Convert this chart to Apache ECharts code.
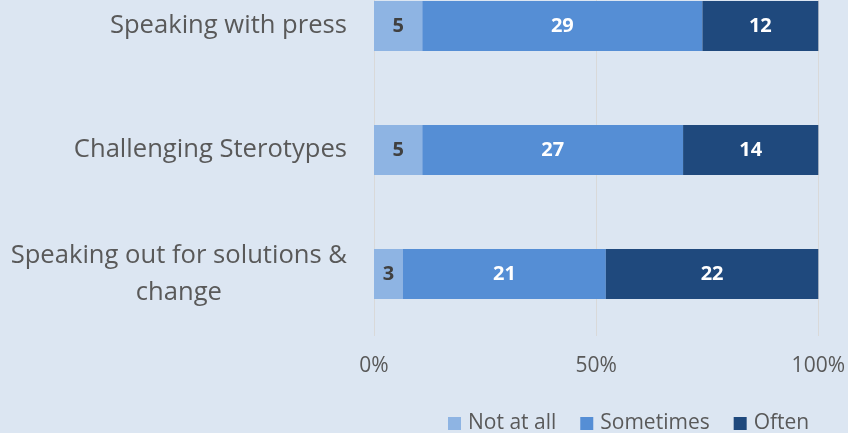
<!DOCTYPE html>
<html><head><meta charset="utf-8">
<script src="https://cdn.jsdelivr.net/npm/echarts@6/dist/echarts.min.js"></script>
<style>html,body{margin:0;padding:0;background:#dce6f2;overflow:hidden;width:848px;height:433px;}#c{position:absolute;left:0;top:-36px;width:848px;height:469px;}</style>
</head><body><div id="c"></div>
<script>
const categories = ['Speaking with press', 'Challenging Sterotypes', 'Speaking out for solutions &\nchange'];
const notAtAll = [5, 5, 3];
const sometimes = [29, 27, 21];
const often = [12, 14, 22];
const seriesNames = ['Not at all', 'Sometimes', 'Often'];
const colors = ['#8eb4e3', '#558ed5', '#1f497d'];
const tickLabels = ['0%', '50%', '100%'];

const raw = [notAtAll, sometimes, often];
const totals = categories.map((_, i) => raw.reduce((s, a) => s + a[i], 0));
const FONT = 'Open Sans';

const chart = echarts.init(document.getElementById('c'));
chart.setOption({
  backgroundColor: '#dce6f2',
  animation: false,
  textStyle: { fontFamily: FONT },
  grid: { left: 374, right: 28, top: 0, bottom: 97, containLabel: false },
  legend: {
    bottom: -1, left: 448, itemWidth: 13, itemHeight: 13, itemGap: 24, padding: 0,
    icon: 'rect',
    textStyle: { fontSize: 21, color: '#595959', fontFamily: FONT, padding: [0, 0, 0, 2] },
    data: seriesNames
  },
  xAxis: {
    type: 'value', min: 0, max: 100, interval: 50,
    axisLine: { show: false }, axisTick: { show: false },
    splitLine: { show: true, lineStyle: { color: '#d9d9d9', width: 1 } },
    axisLabel: {
      fontSize: 21, color: '#595959', margin: 20, fontFamily: FONT,
      formatter: v => tickLabels[Math.round(v / 50)]
    }
  },
  yAxis: {
    type: 'category', inverse: true, data: categories,
    axisLine: { show: false }, axisTick: { show: false },
    axisLabel: {
      fontSize: 25.6, color: '#595959', margin: 27, align: 'right', fontFamily: FONT,
      lineHeight: 37,
      formatter: v => v.split('\n').map(l => '{c|' + l + '}').join('\n'),
      rich: { c: { align: 'center', fontSize: 25.6, lineHeight: 37, color: '#595959', fontFamily: FONT } }
    }
  },
  series: raw.map((arr, si) => ({
    name: seriesNames[si], type: 'bar', stack: 'total', barWidth: 50,
    itemStyle: { color: colors[si] },
    label: {
      show: true, position: 'inside', fontSize: 20, fontWeight: 'bold', fontFamily: FONT,
      color: si === 0 ? '#404040' : '#ffffff',
      formatter: p => String(arr[p.dataIndex])
    },
    data: arr.map((v, i) => v / totals[i] * 100)
  }))
});
</script></body></html>
